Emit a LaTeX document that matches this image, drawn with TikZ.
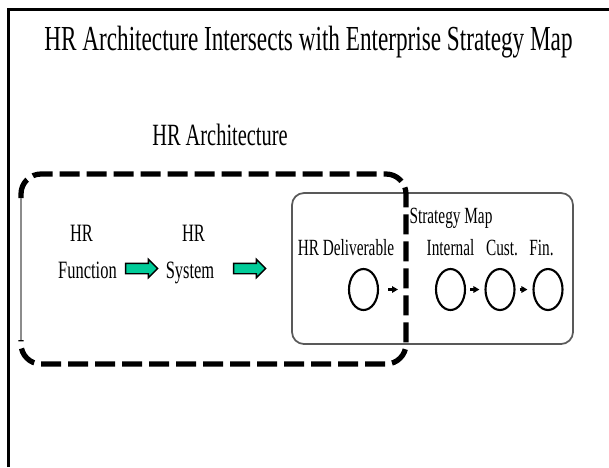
\documentclass[tikz,border=0pt]{standalone}
\usepackage{fontspec}
\setmainfont{Liberation Serif}
\newfontfamily\narrowserif[FakeStretch=0.66]{Liberation Serif}
\usetikzlibrary{shapes.geometric,shapes.arrows,arrows.meta}
\definecolor{hrgreen}{RGB}{0,204,153}

\begin{document}
\begin{tikzpicture}[
    lbl/.style={inner sep=0pt, anchor=base, font=\narrowserif\fontsize{7.1}{8}\selectfont},
    maplbl/.style={lbl, font=\narrowserif\fontsize{6.6}{8}\selectfont},
    greenarrow/.style={single arrow, draw=black, line width=0.4pt, fill=hrgreen, inner xsep=0pt,
        inner ysep=0.045cm, minimum height=0.32cm, single arrow head extend=0.04cm},
    circ/.style={ellipse, draw, line width=0.6pt, inner sep=0pt, minimum width=0.29cm, minimum height=0.41cm},
    smallarr/.style={-{Triangle[length=0.06cm,width=0.065cm]}, line width=0.6pt},
    archdash/.style={line width=1.5pt, dash pattern=on 0.2cm off 0.07cm, rounded corners=0.2cm}
]
    \useasboundingbox (0,0) rectangle (6.09,-4.67);
    % frame
    \draw[line width=0.9pt] (0.085,-4.67) -- (0.085,-0.095) -- (6.09,-0.095);
    \node[lbl, font=\narrowserif\fontsize{10}{12}\selectfont] (title) at (3.085,-0.50)
        {HR Architecture Intersects with Enterprise Strategy Map};

    % strategy map box
    \draw[black!65, line width=0.5pt, rounded corners=0.12cm] (2.92,-1.93) rectangle (5.73,-3.44);

    % HR architecture box
    \node[lbl, font=\narrowserif\fontsize{8.8}{10}\selectfont] (arch) at (2.20,-1.45) {HR Architecture};
    \draw[archdash] (0.21,-1.98) -- (0.21,-1.74) -- (4.06,-1.74) -- (4.06,-3.64) -- (0.21,-3.64) -- (0.21,-3.40);
    \draw[black!45, line width=0.4pt] (0.21,-1.98) -- (0.21,-3.40);

    \node[lbl] (hr1) at (0.815,-2.41) {HR};
    \node[lbl] (func) at (0.875,-2.78) {Function};
    \node[lbl] (hr2) at (1.935,-2.41) {HR};
    \node[lbl] (sys) at (1.90,-2.78) {System};
    \node[greenarrow] (a1) at (1.39,-2.685) {};
    \node[greenarrow] (a2) at (2.47,-2.685) {};

    % strategy map
    \node[maplbl] (smap) at (4.51,-2.23) {Strategy Map};
    \node[maplbl] (hrdel) at (3.46,-2.55) {HR Deliverable};
    \node[maplbl] (intl) at (4.505,-2.55) {Internal};
    \node[maplbl] (custl) at (5.02,-2.55) {Cust.};
    \node[maplbl] (finl) at (5.415,-2.55) {Fin.};

    \node[circ] (del) at (3.635,-2.895) {};
    \node[circ] (int) at (4.505,-2.895) {};
    \node[circ] (cust) at (5.00,-2.895) {};
    \node[circ] (fin) at (5.48,-2.895) {};
    \coordinate (cut) at (4.06,-2.895);

    \draw[smallarr, shorten <=0.09cm, shorten >=0.08cm] (del) -- (cut);
    \draw[smallarr, shorten <=0.04cm, shorten >=0.05cm] (int) -- (cust);
    \draw[smallarr, shorten <=0.04cm, shorten >=0.05cm] (cust) -- (fin);
\end{tikzpicture}
\end{document}
